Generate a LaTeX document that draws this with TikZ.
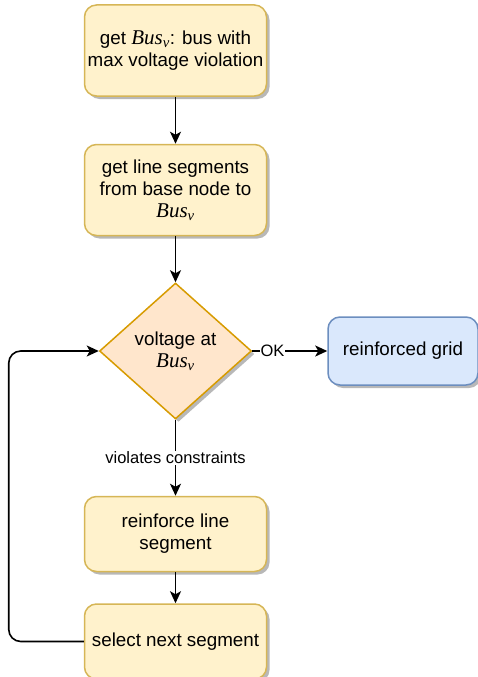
\documentclass[tikz,border=0pt]{standalone}
\usepackage{fontspec}
\setmainfont{Liberation Sans}
\newfontfamily\mjfont{Liberation Serif}
\definecolor{boxFill}{HTML}{FFF2CC}
\definecolor{boxLine}{HTML}{D6B656}
\definecolor{decFill}{HTML}{FFE6CC}
\definecolor{decLine}{HTML}{D79B00}
\definecolor{endFill}{HTML}{DAE8FC}
\definecolor{endLine}{HTML}{6C8EBF}
\usetikzlibrary{arrows.meta,positioning,shapes.geometric,shadows}
\newcommand{\busv}{{\fontsize{21}{21}\selectfont\mjfont\itshape Bus\textsubscript{v}}}

\begin{document}
\begin{tikzpicture}[
    x=1pt, y=1pt,
    shade/.style={drop shadow={shadow xshift=3pt, shadow yshift=-3pt,
                  fill=black!28, opacity=1}},
    stepbox/.style={draw=boxLine, fill=boxFill, line width=1.5pt,
                rounded corners=12pt, minimum width=182pt, minimum height=91pt,
                align=center, inner sep=3pt, shade,
                font=\fontsize{18.8}{22}\selectfont},
    decision/.style={diamond, draw=decLine, fill=decFill, line width=1.5pt,
                minimum width=152pt, minimum height=136pt, aspect=1.12,
                inner sep=0pt, align=center, shade,
                font=\fontsize{18.8}{22}\selectfont},
    result/.style={draw=endLine, fill=endFill, line width=1.5pt,
                rounded corners=12pt, minimum width=150pt, minimum height=68pt,
                align=center, shade, font=\fontsize{18.8}{22}\selectfont},
    arr/.style={-{Stealth[length=12pt, width=11pt, inset=3pt]}, line width=1.6pt},
    lbl/.style={fill=white, inner sep=1pt, font=\fontsize{16.5}{19}\selectfont}
  ]
    \useasboundingbox (0,0) rectangle (478,-677);

    \node[stepbox] (getbus) at (175.5,-50.5)
      {get \busv: bus with\\max voltage violation};
    \node[stepbox, below=47pt of getbus] (segs)
      {get line segments\\from base node to\\\busv};
    \node[decision, below=46pt of segs] (check)
      {voltage at\\\busv};
    \node[result, right=75pt of check] (grid) {reinforced grid};
    \node[stepbox, minimum height=75pt, below=76pt of check] (reinf)
      {reinforce line\\segment};
    \node[stepbox, minimum height=75pt, below=31pt of reinf] (next)
      {select next segment};

    \draw[arr] (getbus) -- (segs);
    \draw[arr] (segs) -- (check);
    \draw[arr] (check) -- node[lbl, pos=0.27] {OK} (grid);
    \draw[arr] (check) -- node[lbl] {violates constraints} (reinf);
    \draw[arr] (reinf) -- (next);

    % loop back to the check
    \draw[arr, rounded corners=12pt] (next.west) -- ++(-75,0) |- (check.west);
  \end{tikzpicture}
\end{document}
